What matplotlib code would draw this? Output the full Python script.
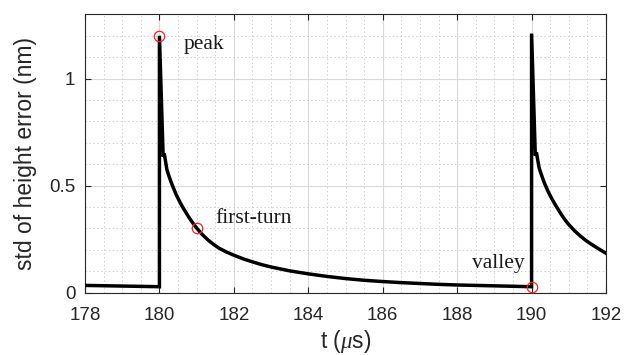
import matplotlib
matplotlib.use("Agg")
import matplotlib.pyplot as plt
from matplotlib.ticker import MultipleLocator

plt.rcParams["mathtext.fontset"] = "custom"
plt.rcParams["mathtext.it"] = "Liberation Serif:italic"
plt.rcParams["mathtext.rm"] = "Liberation Sans"

# Standard deviation of height error over time (two excitation cycles)
t_us = [178.0, 179.0, 180.0, 180.0, 180.1, 180.13, 180.2, 180.25, 180.3,
        180.35, 180.45, 180.55, 180.65, 180.8, 180.9, 181.0, 181.15,
        181.3, 181.45, 181.6, 181.8, 182.0, 182.25, 182.5, 182.75, 183.0,
        183.5, 184.0, 184.5, 185.0, 185.5, 186.0, 186.5, 187.0, 187.5,
        188.0, 188.5, 189.0, 189.5, 190.0,
        190.0, 190.1, 190.13, 190.2, 190.25, 190.3, 190.35, 190.45,
        190.55, 190.65, 190.8, 190.9, 191.0, 191.15, 191.3, 191.45,
        191.6, 191.8, 192.0]
std_nm = [0.034, 0.031, 0.028, 1.20, 0.635, 0.65, 0.575, 0.548, 0.523,
          0.500, 0.458, 0.423, 0.392, 0.350, 0.325, 0.302, 0.272,
          0.247, 0.226, 0.208, 0.190, 0.175, 0.158, 0.144, 0.131, 0.120,
          0.102, 0.088, 0.076, 0.066, 0.058, 0.052, 0.047, 0.043, 0.039,
          0.036, 0.034, 0.032, 0.030, 0.028,
          1.21, 0.64, 0.655, 0.585, 0.558, 0.533,
          0.510, 0.470, 0.437, 0.407, 0.365, 0.340, 0.318, 0.290, 0.266,
          0.245, 0.227, 0.205, 0.184]

# Highlighted points
marker_t = [180.0, 181.0, 190.0]
marker_v = [1.20, 0.30, 0.028]
marker_labels = ["peak", "first-turn", "valley"]
label_offsets = [(0.66, -0.06), (0.5, 0.025), (-0.2, 0.086)]

x_ticks = [178, 180, 182, 184, 186, 188, 190, 192]
y_ticks = [0, 0.5, 1]
y_tick_labels = ["0", "0.5", "1"]

axis_gray = (0.15, 0.15, 0.15)

fig = plt.figure(figsize=(6.31, 3.55), dpi=100)
ax = fig.add_axes([0.1347, 0.1755, 0.8257, 0.7842])

ax.plot(t_us, std_nm, color="black", linewidth=2.5, solid_joinstyle="miter",
        zorder=3)
ax.plot(marker_t, marker_v, linestyle="none", marker="o", markersize=7.5,
        markerfacecolor="none", markeredgecolor="#ff2020",
        markeredgewidth=0.9, zorder=4)

for (xv, yv, txt, (dx, dy)) in zip(marker_t, marker_v, marker_labels,
                                    label_offsets):
    ha = "left" if dx > 0 else "right"
    ax.text(xv + dx, yv + dy, txt, ha=ha, va="baseline",
            family="Liberation Serif", fontsize=15.5, color="#1a1a1a")

ax.set_xlim(178, 192)
ax.set_ylim(0, 1.3)
ax.set_xticks(x_ticks)
ax.set_yticks(y_ticks)
ax.set_yticklabels(y_tick_labels)
ax.xaxis.set_minor_locator(MultipleLocator(0.5))
ax.yaxis.set_minor_locator(MultipleLocator(0.1))

ax.grid(which="major", color=(0.85, 0.85, 0.85), linewidth=0.8)
ax.grid(which="minor", color=(0.82, 0.82, 0.82), linewidth=0.7,
        linestyle=(0, (1.5, 2.5)))
ax.set_axisbelow(True)

ax.tick_params(which="major", direction="in", length=4, width=0.8,
               top=True, right=True, colors=axis_gray, labelsize=13.5)
ax.tick_params(axis="x", which="major", pad=10)
ax.tick_params(axis="y", which="major", pad=7)
ax.tick_params(which="minor", length=0, top=True, right=True)
for lab in ax.get_xticklabels() + ax.get_yticklabels():
    lab.set_family("Liberation Sans")
    lab.set_color(axis_gray)

for sp in ax.spines.values():
    sp.set_color(axis_gray)
    sp.set_linewidth(0.8)

ax.set_xlabel(r"t ($\mathit{\mu}$s)", family="Liberation Sans", fontsize=16.5,
              color=axis_gray, labelpad=3)
ax.set_ylabel("std of height error (nm)", family="Liberation Sans",
              fontsize=16.5, color=axis_gray, labelpad=9)

fig.savefig("out.png", dpi=100)
